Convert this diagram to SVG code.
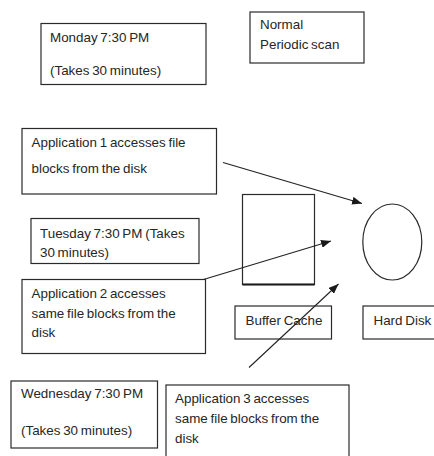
<svg xmlns="http://www.w3.org/2000/svg" width="434" height="456" viewBox="0 0 434 456">
  <style>
    .box { fill: #ffffff; stroke: #2a2a2a; stroke-width: 1.2; }
    .shape { fill: none; stroke: #2a2a2a; stroke-width: 1.2; }
    .lbl { font-family: "Liberation Sans", Arial, sans-serif; font-size: 13.4px; fill: #262626; word-spacing: -1px; }
    .conn { fill: none; stroke: #222222; stroke-width: 1.1; marker-end: url(#arrow); }
  </style>
  <defs>
    <marker id="arrow" viewBox="0 0 10 8" refX="10" refY="4" markerWidth="10" markerHeight="8" markerUnits="userSpaceOnUse" orient="auto">
      <path d="M0,0 L10,4 L0,8 Z" fill="#1a1a1a"/>
    </marker>
  </defs>
  <rect width="434" height="456" fill="#ffffff"/>

  <g id="monday">
    <rect class="box" x="41" y="23.5" width="165" height="61"/>
    <text class="lbl" x="50" y="42">Monday 7:30 PM</text>
    <text class="lbl" x="50" y="75">(Takes 30 minutes)</text>
  </g>

  <g id="normal-scan">
    <rect class="box" x="250" y="12" width="114" height="51"/>
    <text class="lbl" x="260" y="29">Normal</text>
    <text class="lbl" x="260" y="49">Periodic scan</text>
  </g>

  <g id="app1">
    <rect class="box" x="22" y="128.5" width="194.5" height="65.5"/>
    <text class="lbl" x="31.5" y="147">Application 1 accesses file</text>
    <text class="lbl" x="31.5" y="173">blocks from the disk</text>
  </g>

  <g id="tuesday">
    <rect class="box" x="31" y="218.5" width="168" height="45"/>
    <text class="lbl" x="40" y="238">Tuesday 7:30 PM (Takes</text>
    <text class="lbl" x="40" y="257">30 minutes)</text>
  </g>

  <g id="app2">
    <rect class="box" x="22" y="279.5" width="183.5" height="74"/>
    <text class="lbl" x="31.5" y="298">Application 2 accesses</text>
    <text class="lbl" x="31.5" y="318">same file blocks from the</text>
    <text class="lbl" x="31.5" y="337">disk</text>
  </g>

  <g id="wednesday">
    <rect class="box" x="11" y="381" width="146.5" height="67"/>
    <text class="lbl" x="21" y="398">Wednesday 7:30 PM</text>
    <text class="lbl" x="21" y="435">(Takes 30 minutes)</text>
  </g>

  <g id="app3">
    <rect class="box" x="166" y="385" width="183" height="80"/>
    <text class="lbl" x="175" y="403">Application 3 accesses</text>
    <text class="lbl" x="175" y="423">same file blocks from the</text>
    <text class="lbl" x="175" y="443">disk</text>
  </g>

  <g id="buffer-cache">
    <rect class="shape" x="242.5" y="194.5" width="72" height="90"/>
    <line x1="242.5" y1="284.5" x2="314.5" y2="284.5" stroke="#1a1a1a" stroke-width="2"/>
  </g>

  <g id="hard-disk">
    <ellipse class="shape" cx="392.3" cy="242" rx="29.5" ry="38"/>
  </g>

  <g id="buffer-cache-label">
    <rect class="box" x="235" y="306" width="96.5" height="33"/>
    <text class="lbl" x="245.5" y="324.5">Buffer Cache</text>
  </g>

  <g id="hard-disk-label">
    <rect class="box" x="363" y="306" width="80" height="33"/>
    <text class="lbl" x="373.5" y="324.5" font-size="12.5">Hard Disk</text>
  </g>

  <g id="connectors">
    <line class="conn" x1="223" y1="162.5" x2="362" y2="203.5"/>
    <line class="conn" x1="203.5" y1="279.5" x2="331" y2="241"/>
    <line class="conn" x1="249" y1="367.5" x2="338.5" y2="284"/>
  </g>
</svg>
